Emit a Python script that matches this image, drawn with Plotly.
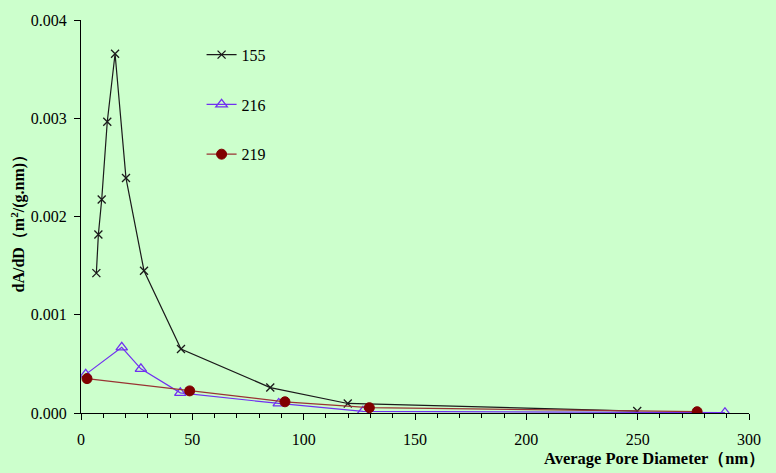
import plotly.graph_objects as go

# Data
x155 = [6.9, 7.8, 9.3, 11.8, 15.3, 20.2, 28.3, 44.9, 85.0, 119.8, 249.8]
y155 = [0.001424, 0.001817, 0.002173, 0.002965, 0.003657, 0.002391, 0.001448, 0.000652, 0.000259, 0.000097, 0.000020]

x216 = [2.1, 18.3, 26.9, 44.6, 88.8, 126.6, 289.2]
y216 = [0.000393, 0.000668, 0.000450, 0.000205, 0.000097, 0.000017, 0.000003]

x219 = [2.7, 48.8, 91.6, 129.5, 276.7]
y219 = [0.000350, 0.000225, 0.000114, 0.000054, 0.000013]

series_names = ["155", "216", "219"]
x_ticks = [0, 50, 100, 150, 200, 250, 300]
y_ticks = [0.000, 0.001, 0.002, 0.003, 0.004]
x_title = "<b>Average Pore Diameter（nm）</b>"
y_title = "<b>dA/dD（m<sup>2</sup>/(g.nm)）</b>"

FONT = "Liberation Serif, Times New Roman, serif"
BG = "#ccffcc"

fig = go.Figure()
fig.add_trace(go.Scatter(
    x=x155, y=y155, name=series_names[0], mode="lines+markers", legendgroup="a",
    line=dict(color="#1a1a1a", width=1.2),
    marker=dict(symbol="x-thin", size=8, color="#1a1a1a", line=dict(color="#1a1a1a", width=1.3)),
))
fig.add_trace(go.Scatter(
    x=x216, y=y216, name=series_names[1], mode="lines+markers", legendgroup="b",
    line=dict(color="#7030f0", width=1.2),
    marker=dict(symbol="triangle-up-open", size=10, color="#7030f0", line=dict(color="#7030f0", width=1.3)),
))
fig.add_trace(go.Scatter(
    x=x219, y=y219, name=series_names[2], mode="lines+markers", legendgroup="c",
    line=dict(color="#993333", width=1.2),
    marker=dict(symbol="circle", size=10, color="#800000", line=dict(color="#800000", width=1)),
))

fig.update_layout(
    width=776, height=473,
    margin=dict(l=81, r=27, t=16, b=60),
    paper_bgcolor=BG, plot_bgcolor=BG,
    font=dict(family=FONT, size=16, color="black"),
    showlegend=True,
    legend=dict(
        x=0.1805, y=0.955, xanchor="left", yanchor="top",
        bgcolor="rgba(0,0,0,0)", font=dict(family=FONT, size=16, color="black"),
        traceorder="grouped", tracegroupgap=26, itemwidth=30,
    ),
    annotations=[
        dict(text=x_title, xref="paper", yref="paper", x=1.027, y=-0.116,
             xanchor="right", yanchor="middle", showarrow=False,
             font=dict(family=FONT, size=16.5, color="black")),
        dict(text=y_title, xref="paper", yref="paper", x=-0.0943, y=0.4924,
             xanchor="center", yanchor="middle", showarrow=False, textangle=-90,
             font=dict(family=FONT, size=16, color="black")),
    ],
)
fig.update_xaxes(
    range=[0, 300], tickvals=x_ticks, ticktext=[str(v) for v in x_ticks],
    showgrid=False, zeroline=False, showline=True, linecolor="black", linewidth=1,
    ticks="outside", ticklen=6, tickcolor="black", ticklabelstandoff=6,
    minor=dict(dtick=10, tick0=0, ticks="outside", ticklen=4, tickcolor="black", showgrid=False),
    tickfont=dict(family=FONT, size=16),
)
fig.update_yaxes(
    range=[0, 0.004], tickvals=y_ticks, ticktext=["%.3f\u00a0" % v for v in y_ticks],
    showgrid=False, zeroline=False, showline=True, linecolor="black", linewidth=1,
    ticks="outside", ticklen=6, tickcolor="black",
    tickfont=dict(family=FONT, size=16),
)

fig.write_html(
    "out.html",
    config={"displayModeBar": False},
    post_script="document.body.style.margin='0';document.body.style.background='%s';" % BG,
)
